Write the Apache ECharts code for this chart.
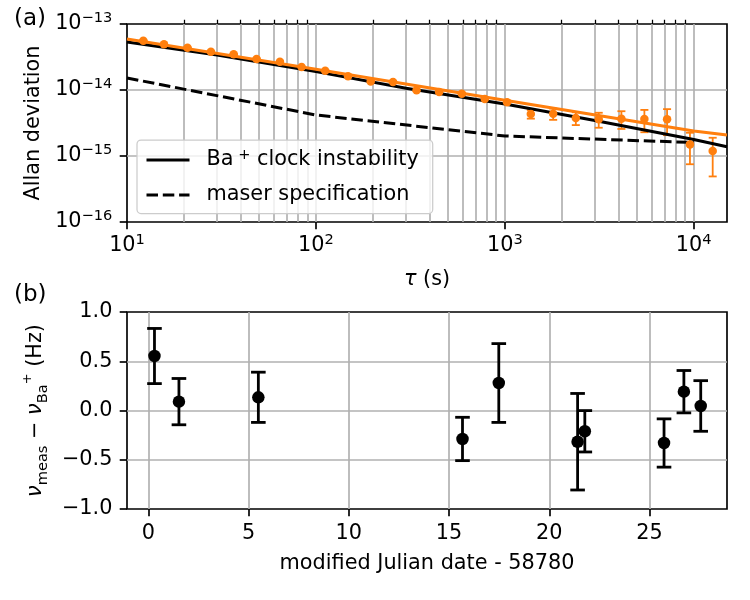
<!DOCTYPE html>
<html>
<head>
<meta charset="utf-8">
<script src="https://cdn.jsdelivr.net/npm/echarts@6/dist/echarts.min.js"></script>
<style>
  html, body { margin: 0; padding: 0; background: #fff; }
  #chart { width: 750px; height: 600px; }
</style>
</head>
<body>
<div id="chart"></div>
<script>
// (a) Allan deviation vs averaging time, values in units of 1e-15
const tauPts = [12.2, 15.7, 20.9, 27.8, 36.7, 48.5, 64.5, 84, 112, 148, 195, 256, 341,
  449, 592, 783, 1028, 1373, 1803, 2376, 3141, 4141, 5480, 7226, 9550, 12600];
const adevPts = [55.8, 49.2, 43.7, 38.0, 34.8, 29.5, 26.9, 22.3, 19.6, 16.1, 13.5, 13.2, 9.9,
  9.33, 8.79, 7.31, 6.52, 4.33, 4.38, 3.77, 3.60, 3.67, 3.64, 3.60, 1.50, 1.19];
const adevErr = [0.6, 0.6, 0.5, 0.5, 0.4, 0.4, 0.4, 0.3, 0.3, 0.3, 0.3, 0.3, 0.25,
  0.3, 0.3, 0.3, 0.35, 0.65, 0.85, 0.83, 0.92, 1.1, 1.35, 1.53, 0.75, 0.70];

const fitTau = [10, 100, 1000, 10000, 15000];
const fitAdev = [59.3, 20.6, 7.0, 2.39, 2.08];

const clockTau = [10, 30, 100, 300, 1000, 3000, 10000, 15000];
const clockAdev = [53.4, 33.9, 19.0, 10.6, 6.14, 3.45, 1.78, 1.38];

const maserTau = [10, 100, 1000, 10000];
const maserAdev = [15.2, 4.18, 2.01, 1.6];

const tauTicks = [10, 100, 1000, 10000];
const tauMinor = [20, 30, 40, 50, 60, 70, 80, 90, 200, 300, 400, 500, 600, 700, 800, 900,
  2000, 3000, 4000, 5000, 6000, 7000, 8000, 9000];
const adevTicks = [0.1, 1, 10, 100];

// (b) frequency difference per day
const mjd = [0.31, 1.53, 5.49, 15.67, 17.48, 21.41, 21.77, 25.72, 26.71, 27.55];
const dNu = [0.553, 0.09, 0.134, -0.289, 0.279, -0.317, -0.211, -0.33, 0.191, 0.046];
const dNuErr = [0.28, 0.235, 0.255, 0.22, 0.40, 0.49, 0.21, 0.245, 0.215, 0.257];
const mjdTicks = [0, 5, 10, 15, 20, 25];

const FONT = 'DejaVu Sans';
const FS = 20.8;
const GRID_C = '#b0b0b0';
const ORANGE = '#ff7f0e';

const supRich = {
  b: { fontFamily: FONT, fontSize: FS, color: '#000', lineHeight: 26 },
  s: { fontFamily: FONT, fontSize: 14.6, color: '#000', lineHeight: 15, verticalAlign: 'top' }
};

const errorBars = (color, lineWidth, capHalf) => (params, api) => {
  const x = api.value(0);
  const top = api.coord([x, api.value(2)]);
  const bot = api.coord([x, api.value(1)]);
  const style = { stroke: color, lineWidth: lineWidth };
  return {
    type: 'group',
    children: [
      { type: 'line', shape: { x1: top[0], y1: top[1], x2: bot[0], y2: bot[1] }, style },
      { type: 'line', shape: { x1: top[0] - capHalf, y1: top[1], x2: top[0] + capHalf, y2: top[1] }, style },
      { type: 'line', shape: { x1: bot[0] - capHalf, y1: bot[1], x2: bot[0] + capHalf, y2: bot[1] }, style }
    ]
  };
};

const tickStyle = { color: '#000', width: 1.67 };
const gridLine = { lineStyle: { color: GRID_C, width: 1.67 } };

const myChart = echarts.init(document.getElementById('chart'));

const option = {
  animation: false,
  backgroundColor: '#fff',
  textStyle: { fontFamily: FONT },
  grid: [
    { left: 127, top: 24, width: 600, height: 198, show: true, borderColor: '#000', borderWidth: 1.67, outerBoundsMode: 'none' },
    { left: 127, top: 312, width: 600, height: 197, show: true, borderColor: '#000', borderWidth: 1.67, outerBoundsMode: 'none' }
  ],
  graphic: [
    { type: 'text', left: 14, top: 8, style: { text: '(a)', font: '23px "DejaVu Sans"', fill: '#000' } },
    { type: 'text', left: 14, top: 284, style: { text: '(b)', font: '23px "DejaVu Sans"', fill: '#000' } }
  ],
  legend: {
    orient: 'vertical',
    left: 137,
    top: 140,
    padding: [8, 14, 8, 8],
    itemWidth: 43,
    itemHeight: 21,
    itemGap: 14,
    selectedMode: false,
    backgroundColor: 'rgba(255,255,255,0.8)',
    borderColor: '#cccccc',
    borderWidth: 1.25,
    borderRadius: 4,
    itemStyle: { opacity: 0 },
    lineStyle: { width: 3 },
    data: ['Ba+ clock instability', 'maser specification'],
    formatter: name => name === 'Ba+ clock instability'
      ? '{t|Ba}{s| +}{t| clock instability}'
      : '{t|maser specification}',
    textStyle: {
      padding: [0, 0, 0, 12],
      rich: {
        t: { fontFamily: FONT, fontSize: FS, color: '#000', lineHeight: 24 },
        s: { fontFamily: FONT, fontSize: 14.6, color: '#000', lineHeight: 15, verticalAlign: 'top' }
      }
    }
  },
  xAxis: [
    {
      gridIndex: 0, type: 'log', min: 10, max: 15000,
      name: '{i|τ}{t| (s)}', nameLocation: 'middle', nameGap: 47,
      nameTextStyle: {
        rich: {
          i: { fontFamily: FONT, fontSize: FS, fontStyle: 'italic', color: '#000' },
          t: { fontFamily: FONT, fontSize: FS, color: '#000' }
        }
      },
      axisLine: { show: false, onZero: false },
      axisTick: { customValues: tauTicks, length: 7.3, lineStyle: tickStyle },
      axisLabel: {
        customValues: tauTicks, margin: 11,
        formatter: v => '{b|10}{s|' + Math.round(Math.log10(v)) + '}',
        rich: supRich
      },
      splitLine: { show: true, showMinLine: false, showMaxLine: true, ...gridLine },
      minorTick: { show: false }
    },
    {
      gridIndex: 0, type: 'log', min: 10, max: 15000,
      axisLine: { show: false, onZero: false },
      axisTick: { customValues: tauMinor, length: 4.2, lineStyle: { color: '#000', width: 1.25 } },
      axisLabel: { show: false },
      splitLine: { show: true, showMinLine: true, showMaxLine: true, ...gridLine }
    },
    {
      gridIndex: 1, type: 'value', min: -1.06, max: 28.86,
      name: 'modified Julian date - 58780', nameLocation: 'middle', nameGap: 44,
      nameTextStyle: { fontFamily: FONT, fontSize: FS, color: '#000' },
      axisLine: { show: false, onZero: false },
      axisTick: { customValues: mjdTicks, length: 7.3, lineStyle: tickStyle },
      axisLabel: { customValues: mjdTicks, margin: 14.6, fontFamily: FONT, fontSize: FS, color: '#000' },
      splitLine: { show: true, showMinLine: true, showMaxLine: true, ...gridLine }
    }
  ],
  yAxis: [
    {
      gridIndex: 0, type: 'log', min: 0.1, max: 100,
      name: 'Allan deviation', nameLocation: 'middle', nameGap: 76, nameRotate: 90,
      nameTextStyle: { fontFamily: FONT, fontSize: FS, color: '#000' },
      axisLine: { show: false, onZero: false },
      axisTick: { customValues: adevTicks, length: 7.3, lineStyle: tickStyle },
      axisLabel: {
        customValues: adevTicks, margin: 14.6,
        formatter: v => '{b|10}{s|' + String(Math.round(Math.log10(v)) - 15).replace('-', '−') + '}',
        rich: supRich
      },
      splitLine: { show: true, showMinLine: false, showMaxLine: false, ...gridLine }
    },
    {
      gridIndex: 1, type: 'value', min: -1, max: 1, interval: 0.5,
      name: '{n|ν}{sub|meas}{t| − }{n|ν}{sub|Ba}{sup|+}{t| (Hz)}',
      nameLocation: 'middle', nameGap: 64, nameRotate: 90,
      nameTextStyle: {
        rich: {
          n: { fontFamily: FONT, fontSize: FS, fontStyle: 'italic', color: '#000', lineHeight: 30 },
          t: { fontFamily: FONT, fontSize: FS, color: '#000', lineHeight: 30 },
          sub: { fontFamily: FONT, fontSize: 14.6, color: '#000', lineHeight: 15, verticalAlign: 'bottom' },
          sup: { fontFamily: FONT, fontSize: 13, color: '#000', lineHeight: 17, verticalAlign: 'top' }
        }
      },
      axisLine: { show: false, onZero: false },
      axisTick: { length: 7.3, lineStyle: tickStyle },
      axisLabel: {
        margin: 14.6, fontFamily: FONT, fontSize: FS, color: '#000',
        formatter: v => v.toFixed(1).replace('-', '−')
      },
      splitLine: { show: true, showMinLine: false, showMaxLine: false, ...gridLine }
    }
  ],
  series: [
    {
      name: 'maser specification', type: 'line', xAxisIndex: 0, yAxisIndex: 0,
      data: maserTau.map((t, i) => [t, maserAdev[i]]),
      symbol: 'none', silent: true,
      lineStyle: { color: '#000', width: 3, type: [11.5, 4.8] }, itemStyle: { color: '#000' }
    },
    {
      name: 'Ba+ clock instability', type: 'line', xAxisIndex: 0, yAxisIndex: 0,
      data: clockTau.map((t, i) => [t, clockAdev[i]]),
      symbol: 'none', silent: true,
      lineStyle: { color: '#000', width: 3 }, itemStyle: { color: '#000' }
    },
    {
      name: 'fit', type: 'line', xAxisIndex: 0, yAxisIndex: 0,
      data: fitTau.map((t, i) => [t, fitAdev[i]]),
      symbol: 'none', silent: true,
      lineStyle: { color: ORANGE, width: 3 }, itemStyle: { color: ORANGE }
    },
    {
      name: 'adev err', type: 'custom', xAxisIndex: 0, yAxisIndex: 0,
      data: tauPts.map((t, i) => [t, adevPts[i] - adevErr[i], adevPts[i] + adevErr[i]]),
      encode: { x: 0, y: [1, 2] },
      renderItem: errorBars(ORANGE, 1.8, 4), silent: true, z: 3
    },
    {
      name: 'adev', type: 'scatter', xAxisIndex: 0, yAxisIndex: 0,
      data: tauPts.map((t, i) => [t, adevPts[i]]),
      symbolSize: 8.5, itemStyle: { color: ORANGE, opacity: 1 }, silent: true, z: 4
    },
    {
      name: 'dnu err', type: 'custom', xAxisIndex: 2, yAxisIndex: 1,
      data: mjd.map((d, i) => [d, dNu[i] - dNuErr[i], dNu[i] + dNuErr[i]]),
      encode: { x: 0, y: [1, 2] },
      renderItem: errorBars('#000', 2.8, 7.3), silent: true, z: 3
    },
    {
      name: 'dnu', type: 'scatter', xAxisIndex: 2, yAxisIndex: 1,
      data: mjd.map((d, i) => [d, dNu[i]]),
      symbolSize: 12.5, itemStyle: { color: '#000', opacity: 1 }, silent: true, z: 4
    }
  ]
};

myChart.setOption(option);
window.addEventListener('resize', () => myChart.resize());
</script>
</body>
</html>
